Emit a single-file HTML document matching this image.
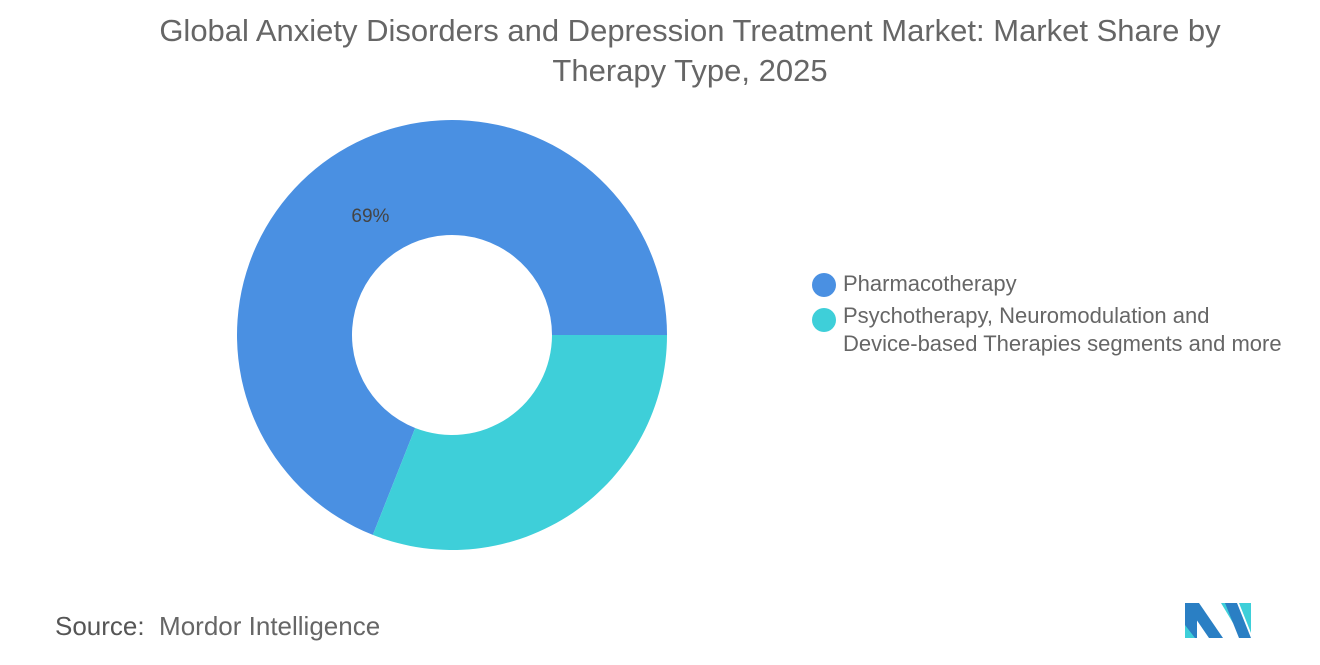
<!DOCTYPE html>
<html><head><meta charset="utf-8"><style>
body{margin:0;width:1320px;height:665px;background:#fff;font-family:"Liberation Sans",sans-serif;position:relative;overflow:hidden}
.t{position:absolute;left:0;width:1380px;text-align:center;top:11px;font-size:31px;line-height:40px;color:#666}
.lg{position:absolute;font-size:22px;color:#666;line-height:28px}
.dot{position:absolute;width:24px;height:24px;border-radius:50%}
</style></head><body>
<div class="t">Global Anxiety Disorders and Depression Treatment Market: Market Share by<br>Therapy Type, 2025</div>
<svg id="c" width="1320" height="665" style="position:absolute;left:0;top:0"></svg>
<div class="dot" style="left:812px;top:273px;background:#4a90e2"></div>
<div class="lg" style="left:843px;top:270px">Pharmacotherapy</div>
<div class="dot" style="left:812px;top:308px;background:#3ecfd9"></div>
<div class="lg" style="left:843px;top:302px">Psychotherapy, Neuromodulation and<br>Device-based Therapies segments and more</div>
<div style="position:absolute;left:55px;top:611px;font-size:26px;color:#666"><b style="font-weight:normal;color:#555">Source:</b>&nbsp; Mordor Intelligence</div>
<svg style="position:absolute;left:1185px;top:603px" width="66" height="35">
<polygon points="0,0 12,0 12,35 0,35" fill="#2a7fc4"/><polygon points="0,0 14,0 38,35 24,35" fill="#2a7fc4"/><polygon points="0,22 10,35 0,35" fill="#3ecfd9"/>
<polygon points="36,0 48,0 48,20" fill="#3ecfd9"/><polygon points="40,0 52,0 66,35 54,35" fill="#2a7fc4"/><polygon points="54,0 66,0 66,30" fill="#3ecfd9"/>
</svg>
<script>
const categories=["Pharmacotherapy","Psychotherapy, Neuromodulation and Device-based Therapies segments and more"];
const shares=[69,31];
const labels=["69%",""];
const colors=["#4a90e2","#3ecfd9"];
const svg=document.getElementById('c');
const cx=452,cy=335,R=215,r=100;
const tot=shares.reduce((a,b)=>a+b,0);
let a0=0;
function pt(rad,a){return [cx+rad*Math.cos(a),cy+rad*Math.sin(a)];}
shares.forEach((v,i)=>{
  const sw=v/tot*2*Math.PI;
  const a1=a0-sw;
  const p1=pt(R,a0),p2=pt(R,a1),p3=pt(r,a1),p4=pt(r,a0);
  const lg=sw>Math.PI?1:0;
  const p=document.createElementNS('http://www.w3.org/2000/svg','path');
  p.setAttribute('d',`M${p1}A${R},${R} 0 ${lg} 0 ${p2}L${p3}A${r},${r} 0 ${lg} 1 ${p4}Z`);
  p.setAttribute('fill',colors[i]);
  
  
  svg.appendChild(p);
  if(labels[i]){
    const t=document.createElementNS('http://www.w3.org/2000/svg','text');
    const [x,y]=pt(R*0.675,a0-sw*0.5);
    t.setAttribute('x',x);t.setAttribute('y',y+7);
    t.setAttribute('text-anchor','middle');t.setAttribute('font-size','19');t.setAttribute('fill','#444');
    t.setAttribute('font-family','Liberation Sans, sans-serif');
    t.textContent=labels[i];
    
    
    svg.appendChild(t);
  }
  a0=a1;
});
</script>
</body></html>
